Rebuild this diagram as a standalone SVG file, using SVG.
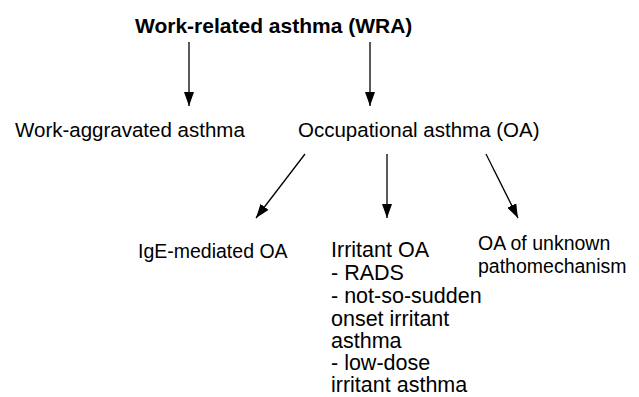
<svg xmlns="http://www.w3.org/2000/svg" width="639" height="397" viewBox="0 0 639 397">
<style>
text{font-family:"Liberation Sans",Arial,sans-serif;font-size:20.5px;fill:#000}
.b{font-weight:bold;font-size:21px}
.c line{stroke:#000;stroke-width:1.3}
</style>
<defs>
<marker id="ah" markerUnits="userSpaceOnUse" markerWidth="14" markerHeight="10" refX="14" refY="5" orient="auto">
<path d="M0,0 L14,5 L0,10 Z" fill="#000"/>
</marker>
</defs>
<rect width="639" height="397" fill="#fff"/>
<g id="wra"><text class="b" x="135" y="33">Work-related asthma (WRA)</text></g>
<g id="waa"><text x="15" y="137">Work-aggravated asthma</text></g>
<g id="oa"><text x="298" y="137">Occupational asthma (OA)</text></g>
<g id="ige"><text x="138" y="258" style="font-size:19.5px">IgE-mediated OA</text></g>
<g id="irr"><text x="331" y="257" style="font-size:21.5px">Irritant OA<tspan x="331" y="279.8">- RADS</tspan><tspan x="331" y="302.7">- not-so-sudden</tspan><tspan x="331" y="325.5">onset irritant</tspan><tspan x="331" y="348.3">asthma</tspan><tspan x="331" y="370.2">- low-dose</tspan><tspan x="331" y="392">irritant asthma</tspan></text></g>
<g id="unk"><text x="478" y="250" style="font-size:19.5px">OA of unknown<tspan x="478" y="273">pathomechanism</tspan></text></g>
<g class="c">
<line x1="189" y1="42" x2="189" y2="106" marker-end="url(#ah)"/>
<line x1="370" y1="42" x2="370" y2="106" marker-end="url(#ah)"/>
<line x1="305" y1="154" x2="256" y2="218" marker-end="url(#ah)"/>
<line x1="387" y1="154" x2="387" y2="218" marker-end="url(#ah)"/>
<line x1="486" y1="154" x2="518" y2="218" marker-end="url(#ah)"/>
</g>
</svg>
